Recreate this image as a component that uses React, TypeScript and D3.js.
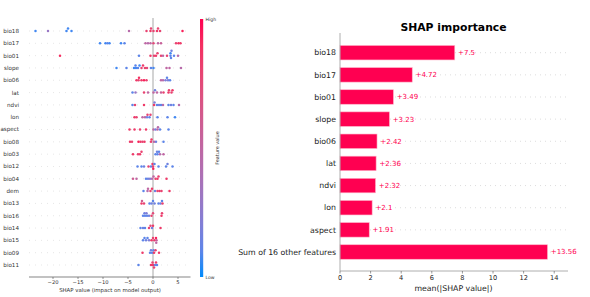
import React from 'react';
import * as d3 from 'd3';

// Beeswarm (left) — features ordered by importance
const featureNames = [
  'bio18', 'bio17', 'bio01', 'slope', 'bio06', 'lat', 'ndvi', 'lon', 'aspect', 'bio08',
  'bio03', 'bio12', 'bio04', 'dem', 'bio13', 'bio16', 'bio14', 'bio15', 'bio09', 'bio11',
];

// SHAP value of each sample, per feature
const shapValues: number[][] = [
  [-23.5, -21, -17.3, -17, -16.3, -4.8, -1.3, -0.5, -0.4, 0.1, 0.8, 1.0, 1.4, 5.9],
  [-10.6, -9.5, -9.1, -8.7, -6.4, -5.7, -1.5, -1.0, -0.5, 0.1, 1.0, 1.6, 4.6, 5.1, 5.5],
  [-18.6, -2.8, -0.5, 0.2, 0.6, 0.9, 1.6, 2.0, 2.8, 3.5, 3.5, 3.6, 3.7, 4.2, 5.0],
  [-7.3, -5.3, -3.8, -3.5, -3.4, -3.0, -2.7, -2.3, -2.0, -1.6, -1.2, -0.4, 0.1, 2.7, 3.3, 5.6],
  [-3.3, -2.9, -2.8, -2.3, -1.8, -1.3, 1.6, 2.0, 2.5, 2.8, 3.0, 3.4],
  [-4.1, -3.5, -1.8, -1.0, 0.1, 0.4, 0.8, 1.6, 2.1, 3.1, 3.2, 3.7, 3.9],
  [-4.1, -3.6, -1.8, 0.2, 0.3, 0.8, 1.2, 1.6, 2.0, 3.1, 3.6, 4.1, 5.2],
  [-3.7, -3.3, -2.1, -1.6, -1.2, -1.1, -0.7, -0.5, 0.9, 2.9, 4.4],
  [-4.7, -3.7, -2.6, -1.4, 0.1, 0.5, 0.9, 1.0, 1.4, 3.1],
  [-4.6, -4.2, -2.9, -2.5, -2.1, -1.7, -0.4, -0.3, 0.2, 0.6, 2.1],
  [-4.0, -3.0, -2.6, -2.3, 0.5, 0.8, 0.9, 1.2, 1.4, 2.1],
  [-3.1, -2.3, -1.8, -0.9, -0.4, -0.1, 0.0, 0.05, 0.3, 1.1, 2.6, 2.9, 3.9],
  [-4.0, -3.3, -1.4, -1.0, -0.6, -0.2, 0.1, 0.5, 0.9, 1.1, 2.7],
  [-1.9, -1.1, -1.0, -0.5, -0.2, 0.4, 0.9, 1.3, 1.7, 3.3],
  [-2.3, -2.2, -1.8, -0.7, -0.3, 0.0, 0.3, 1.1, 1.5, 1.8, 1.9],
  [-2.0, -1.7, -1.6, -1.3, -1.2, -0.8, -0.3, 0.0, 1.7, 1.8],
  [-2.5, -2.0, -1.6, -0.8, -0.5, -0.2, 0.0, 1.5],
  [-2.0, -1.7, -1.4, -1.1, -0.8, -0.3, 0.0, 0.3, 0.6, 0.65, 0.7],
  [-2.1, -0.6, -0.4, -0.2, 0.1, 0.2, 0.5, 1.2],
  [-2.9, -0.4, -0.1, 0.0, 0.2, 0.4, 0.6, 0.8],
];

// normalised feature value (0 = low, 1 = high) of the same samples
const featureLevels: number[][] = [
  [0.05, 0.3, 0.05, 0.05, 0.05, 0.45, 0.8, 0.85, 0.8, 0.8, 0.85, 0.8, 0.8, 0.95],
  [0.05, 0.05, 0.1, 0.05, 0.05, 0.1, 0.5, 0.45, 0.5, 0.75, 0.5, 0.55, 0.8, 0.9, 0.85],
  [0.9, 0.1, 0.85, 0.8, 0.85, 0.8, 0.8, 0.5, 0.8, 0.1, 0.05, 0.1, 0.15, 0.1, 0.45],
  [0.05, 0.1, 0.05, 0.1, 0.05, 0.1, 0.05, 0.8, 0.85, 0.8, 0.75, 0.1, 0.05, 0.5, 0.5, 0.45],
  [0.85, 0.8, 0.9, 0.85, 0.95, 0.8, 0.5, 0.45, 0.2, 0.1, 0.2, 0.1],
  [0.1, 0.3, 0.8, 0.5, 0.5, 0.15, 0.5, 0.55, 0.8, 0.85, 0.8, 0.8, 0.85],
  [0.1, 0.8, 0.85, 0.85, 0.2, 0.1, 0.15, 0.1, 0.45, 0.1, 0.15, 0.1, 0.45],
  [0.85, 0.8, 0.5, 0.5, 0.15, 0.8, 0.1, 0.8, 0.1, 0.1, 0.05],
  [0.85, 0.85, 0.8, 0.85, 0.5, 0.15, 0.5, 0.45, 0.1, 0.1],
  [0.85, 0.8, 0.95, 0.85, 0.8, 0.85, 0.8, 0.85, 0.5, 0.15, 0.1],
  [0.85, 0.8, 0.85, 0.8, 0.1, 0.15, 0.1, 0.1, 0.45, 0.5],
  [0.1, 0.1, 0.15, 0.8, 0.1, 0.85, 0.8, 0.95, 0.1, 0.1, 0.1, 0.15, 0.1],
  [0.6, 0.5, 0.1, 0.15, 0.2, 0.45, 0.5, 0.8, 0.85, 0.8, 0.85],
  [0.1, 0.45, 0.5, 0.8, 0.85, 0.15, 0.8, 0.85, 0.8, 0.85],
  [0.85, 0.6, 0.8, 0.1, 0.15, 0.1, 0.15, 0.1, 0.15, 0.1, 0.8],
  [0.1, 0.15, 0.1, 0.2, 0.1, 0.15, 0.8, 0.75, 0.85, 0.8],
  [0.1, 0.15, 0.1, 0.8, 0.75, 0.15, 0.85, 0.85],
  [0.1, 0.1, 0.15, 0.1, 0.2, 0.85, 0.8, 0.85, 0.95, 0.5, 0.55],
  [0.85, 0.1, 0.15, 0.1, 0.1, 0.85, 0.8, 0.85],
  [0.1, 0.85, 0.8, 0.85, 0.8, 0.15, 0.85, 0.1],
];

const swarmTicks = [-20, -15, -10, -5, 0, 5];

// Bar chart (right)
const importanceLabels = ['bio18', 'bio17', 'bio01', 'slope', 'bio06', 'lat', 'ndvi', 'lon', 'aspect', 'Sum of 16 other features'];
const importanceValues = [7.5, 4.72, 3.49, 3.23, 2.42, 2.36, 2.32, 2.1, 1.91, 13.56];
const barTicks = [0, 2, 4, 6, 8, 10, 12, 14];

const FONT = 'DejaVu Sans, sans-serif';
const RED = '#ff0051';
const colorOf = d3.interpolateLab('#008bfb', '#ff0051');
const fmtMinus = (v: number) => (v < 0 ? `\u2212${Math.abs(v)}` : `${v}`);

// simple beeswarm layout: stack colliding dots alternately above/below the row
function swarmOffsets(xs: number[], minDx: number, step: number): number[] {
  const order = d3.range(xs.length).sort((a, b) => xs[a] - xs[b]);
  const placed: { x: number; o: number }[] = [];
  const offs = new Array(xs.length).fill(0);
  for (const i of order) {
    for (let k = 0; k < 40; k++) {
      const o = k === 0 ? 0 : (k % 2 ? -Math.ceil(k / 2) : Math.ceil(k / 2));
      if (!placed.some(p => p.o === o && Math.abs(p.x - xs[i]) < minDx)) {
        offs[i] = o * step;
        placed.push({ x: xs[i], o });
        break;
      }
    }
  }
  return offs;
}

const Beeswarm: React.FC = () => {
  const x = d3.scaleLinear().domain([-24.8, 7.4]).range([29, 190]);
  const y = d3.scalePoint<string>().domain(featureNames).range([31, 265]);
  const axisY = 277;

  const grad = d3.range(0, 1.0001, 0.1);

  return (
    <g fontFamily={FONT}>
      {featureNames.map(name => (
        <line key={`g-${name}`} x1={29} x2={190} y1={y(name)} y2={y(name)}
          stroke="#cccccc" strokeWidth={0.5} strokeDasharray="1,5" />
      ))}
      <line x1={x(0)} x2={x(0)} y1={18} y2={axisY} stroke="#c8c8c8" strokeWidth={1.6} />

      {featureNames.map((name, r) => {
        const xs = shapValues[r].map(v => x(v));
        const offs = swarmOffsets(xs, 1.8, 2.4);
        return (
          <g key={name}>
            {xs.map((px, i) => (
              <circle key={i} cx={px} cy={(y(name) as number) + offs[i]} r={1.25}
                fill={colorOf(featureLevels[r][i])} />
            ))}
            <text x={19} y={y(name)} dy="0.35em" textAnchor="end" fontSize={5.6} fill="#333">{name}</text>
          </g>
        );
      })}

      <line x1={29} x2={190.5} y1={axisY} y2={axisY} stroke="#333" strokeWidth={0.6} />
      {swarmTicks.map(t => (
        <g key={t} transform={`translate(${x(t)},${axisY})`}>
          <line y2={2} stroke="#333" strokeWidth={0.5} />
          <text y={6.8} textAnchor="middle" fontSize={5.2} fill="#333">{fmtMinus(t)}</text>
        </g>
      ))}
      <text x={110} y={291.5} textAnchor="middle" fontSize={5.4} fill="#333">SHAP value (impact on model output)</text>

      <defs>
        <linearGradient id="fv-grad" x1="0" y1="1" x2="0" y2="0">
          {grad.map(t => <stop key={t} offset={`${t * 100}%`} stopColor={colorOf(t)} />)}
        </linearGradient>
      </defs>
      <rect x={200} y={19} width={3.2} height={258} fill="url(#fv-grad)" />
      <text x={205.5} y={20.5} fontSize={4.6} fill="#333">High</text>
      <text x={205.5} y={279} fontSize={4.6} fill="#333">Low</text>
      <text transform="translate(218.5,148) rotate(-90)" textAnchor="middle" fontSize={4.9} fill="#333">Feature value</text>
    </g>
  );
};

const ImportanceBars: React.FC = () => {
  const x = d3.scaleLinear().domain([0, 14.9]).range([340, 568]);
  const y = d3.scalePoint<string>().domain(importanceLabels).range([52.7, 252]);
  const barH = 14.5;
  const axisY = 271;

  return (
    <g fontFamily={FONT}>
      <text x={453.5} y={31} textAnchor="middle" fontSize={10.8} fontWeight="bold" fill="#000">SHAP importance</text>
      {importanceLabels.map(l => (
        <line key={`g-${l}`} x1={340} x2={567} y1={y(l)} y2={y(l)}
          stroke="#bbb" strokeWidth={0.5} strokeDasharray="1,4" />
      ))}
      {importanceLabels.map((l, i) => (
        <g key={l}>
          <rect x={x(0)} y={(y(l) as number) - barH / 2} width={x(importanceValues[i]) - x(0)} height={barH}
            fill={RED} stroke="#ffb3c8" strokeWidth={0.6} />
          <text x={x(importanceValues[i]) + 3.3} y={y(l)} dy="0.35em" fontSize={7} fill={RED}>
            +{importanceValues[i]}
          </text>
          <text x={336} y={y(l)} dy="0.35em" textAnchor="end" fontSize={7.8} fill="#222">{l}</text>
        </g>
      ))}
      <line x1={340} x2={340} y1={33} y2={axisY} stroke="#999" strokeWidth={0.8} />
      <line x1={340} x2={568} y1={axisY} y2={axisY} stroke="#999" strokeWidth={0.8} />
      {barTicks.map(t => (
        <g key={t} transform={`translate(${x(t)},${axisY})`}>
          <line y2={2.5} stroke="#555" strokeWidth={0.6} />
          <text y={9} textAnchor="middle" fontSize={6.6} fill="#222">{t}</text>
        </g>
      ))}
      <text x={453.5} y={291} textAnchor="middle" fontSize={7.8} fill="#222">mean(|SHAP value|)</text>
    </g>
  );
};

export default function App() {
  return (
    <svg width={590} height={297} style={{ position: 'absolute', left: 0, top: 0, background: '#fff' }}>
      <rect width={590} height={297} fill="#fff" />
      <Beeswarm />
      <ImportanceBars />
    </svg>
  );
}
